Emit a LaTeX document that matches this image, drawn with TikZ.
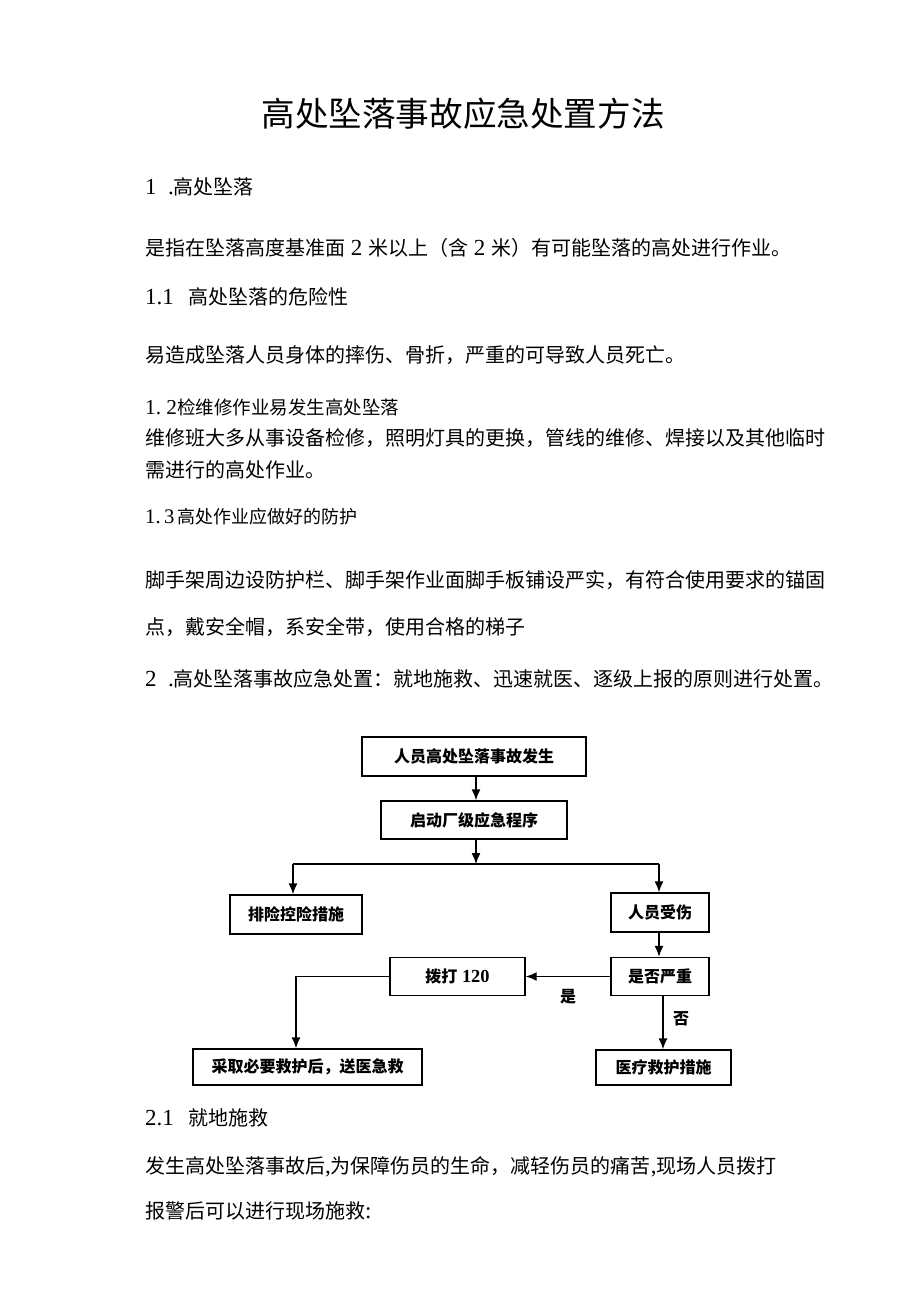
\documentclass[tikz,border=0pt]{standalone}
\usepackage{fontspec}
\setmainfont{Noto Sans CJK SC}
\newfontfamily\lat[Scale=1.15]{Liberation Serif}
\usetikzlibrary{arrows.meta}
\tikzset{
  body/.style={anchor=west,inner sep=0pt,font=\fontsize{20}{24}\selectfont},
  fbox/.style={draw,line width=1.4pt,inner sep=0pt,font=\fontsize{16}{19}\selectfont\bfseries},
  conn/.style={line width=1.4pt},
  arr/.style={conn,-{Latex[length=11pt,width=9pt]}},
  lbl/.style={inner sep=0pt,font=\fontsize{16}{19}\selectfont\bfseries}
}
\begin{document}
\begin{tikzpicture}[x=1pt,y=-1pt]
\useasboundingbox (0,0) rectangle (920,1301);
\fill[white] (0,0) rectangle (920,1301);
% title
\node[inner sep=0pt,font=\fontsize{33.6}{40}\selectfont] (title) at (463,114) {高处坠落事故应急处置方法};
% body text
\node[body] (t1) at (145,187) {{\lat 1\ \ .}高处坠落};
\node[body] (t2) at (145,248) {是指在坠落高度基准面{\lat\ 2\ }米以上（含{\lat\ 2\ }米）有可能坠落的高处进行作业。};
\node[body] (t3) at (145,297) {{\lat 1.1}\hspace{15pt}高处坠落的危险性};
\node[body] (t4) at (145,355) {易造成坠落人员身体的摔伤、骨折，严重的可导致人员死亡。};
\node[body,font=\fontsize{18.5}{22}\selectfont] (t5) at (145,407) {{\lat 1.\ 2}检维修作业易发生高处坠落};
\node[body] (t6) at (145,438) {维修班大多从事设备检修，照明灯具的更换，管线的维修、焊接以及其他临时};
\node[body] (t7) at (145,470) {需进行的高处作业。};
\node[body,font=\fontsize{18}{22}\selectfont] (t8) at (145,517) {{\lat 1.\,3}\,高处作业应做好的防护};
\node[body] (t9) at (145,580) {脚手架周边设防护栏、脚手架作业面脚手板铺设严实，有符合使用要求的锚固};
\node[body] (t10) at (145,627) {点，戴安全帽，系安全带，使用合格的梯子};
\node[body] (t11) at (145,679) {{\lat 2\ \ .}高处坠落事故应急处置：就地施救、迅速就医、逐级上报的原则进行处置。};
\node[body] (t12) at (145,1118) {{\lat 2.1}\hspace{15pt}就地施救};
\node[body] (t13) at (145,1167) {发生高处坠落事故后{\lat ,}为保障伤员的生命，减轻伤员的痛苦{\lat ,}现场人员拨打};
\node[body] (t14) at (145,1211) {报警后可以进行现场施救{\lat :}};
% flowchart
\node[fbox,minimum width=224pt,minimum height=39pt] (b1) at (474,756.5) {人员高处坠落事故发生};
\node[fbox,minimum width=186pt,minimum height=38pt] (b2) at (474,820) {启动厂级应急程序};
\node[fbox,minimum width=132pt,minimum height=39pt] (b3) at (296,914.5) {排险控险措施};
\node[fbox,minimum width=98pt,minimum height=39pt] (b4) at (660,912.5) {人员受伤};
\node[fbox,minimum width=98pt,minimum height=38pt] (b5) at (660,976.5) {是否严重};
\node[fbox,minimum width=135pt,minimum height=38pt] (b6) at (457.5,976.5) {拨打{\lat\bfseries\ 120}};
\node[fbox,minimum width=229pt,minimum height=36pt] (b7) at (307.5,1067) {采取必要救护后，送医急救};
\node[fbox,minimum width=135pt,minimum height=35pt] (b8) at (663.5,1067.5) {医疗救护措施};
\coordinate (j) at (476,864);
\coordinate (jl) at (293,864);
\coordinate (jr) at (659,864);
\coordinate (k) at (296,976.5);
\draw[arr] (b1.south -| 476,0) -- (b2.north -| 476,0);
\draw[arr] (b2.south -| j) -- (j);
\draw[conn] (jl) -- (jr);
\draw[arr] (jl) -- (b3.north -| jl);
\draw[arr] (jr) -- (b4.north -| jr);
\draw[arr] (b4.south -| jr) -- (b5.north -| jr);
\draw[arr] (b5.west) -- (b6.east);
\draw[arr] (b6.west) -- (k) -- (b7.north -| k);
\draw[arr] (b5.south -| 663,0) -- (b8.north -| 663,0);
\node[lbl] (yes) at (568,997) {是};
\node[lbl] (no) at (681,1019) {否};
\end{tikzpicture}
\end{document}
